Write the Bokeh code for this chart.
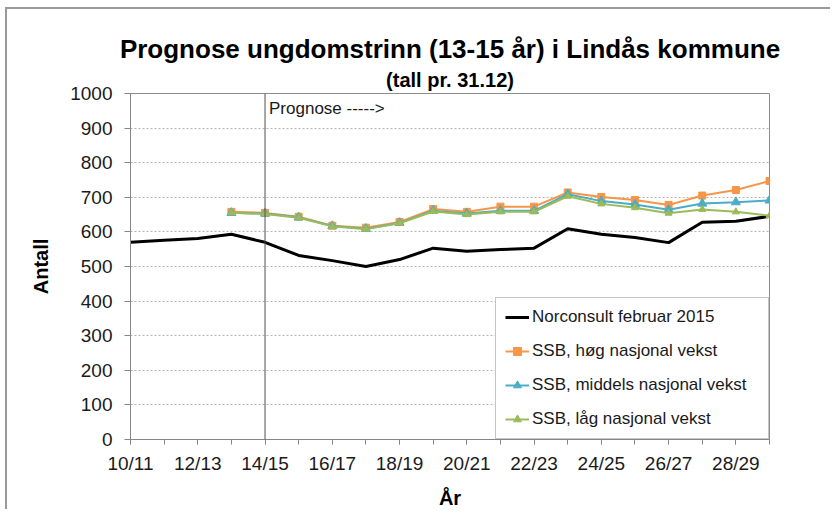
import math
from bokeh.plotting import figure
from bokeh.models import (Range1d, FixedTicker, Span, Label, Legend, LegendItem, Title)
from bokeh.embed import file_html
from bokeh.resources import INLINE

nan = float("nan")

years = ["10/11", "11/12", "12/13", "13/14", "14/15", "15/16", "16/17", "17/18", "18/19", "19/20",
         "20/21", "21/22", "22/23", "23/24", "24/25", "25/26", "26/27", "27/28", "28/29", "29/30"]
norconsult = [570, 576, 581, 593, 570, 532, 517, 500, 520, 553,
              544, 549, 553, 609, 593, 584, 569, 628, 631, 645]
ssb_hog = [nan, nan, nan, 658, 655, 644, 618, 612, 629, 666,
           658, 673, 673, 714, 701, 692, 678, 705, 721, 747]
ssb_middels = [nan, nan, nan, 655, 653, 642, 617, 609, 626, 661,
               653, 661, 661, 709, 689, 679, 664, 682, 686, 691]
ssb_lag = [nan, nan, nan, 655, 652, 641, 616, 608, 625, 659,
           650, 658, 658, 703, 681, 670, 654, 665, 658, 647]
y_ticks = list(range(0, 1001, 100))
prognose_start = "14/15"

FONT = "Liberation Sans"
xs = list(range(len(years)))

p = figure(width=825, height=502, output_backend="svg", toolbar_location=None,
           x_range=Range1d(0, len(years) - 1), y_range=Range1d(0, 1000),
           min_border_left=123, min_border_right=63, min_border_top=84, min_border_bottom=61)
p.styles = {"border-top": "2px solid #9a9a9a", "border-left": "2px solid #9a9a9a",
            "margin-left": "5px", "margin-top": "7px"}

# titles
sub = Title(text="(tall pr. 31.12)", align="center", text_font=FONT, text_font_size="20px",
            text_font_style="bold", text_color="black", standoff=5)
main = Title(text="Prognose ungdomstrinn (13-15 år) i Lindås kommune", align="center", text_font=FONT,
             text_font_size="26px", text_font_style="bold", text_color="black", standoff=2)
p.add_layout(sub, "above")
p.add_layout(main, "above")

p.outline_line_color = "#8c8c8c"
p.outline_line_width = 1
p.background_fill_color = "white"
p.border_fill_color = "white"

# grid
p.xgrid.visible = False
p.ygrid.ticker = FixedTicker(ticks=y_ticks)
p.ygrid.grid_line_color = "#b5b5b5"
p.ygrid.grid_line_dash = "2 2"
p.ygrid.grid_line_width = 1

# axes
p.yaxis.ticker = FixedTicker(ticks=y_ticks)
p.xaxis.ticker = FixedTicker(ticks=xs[::2], minor_ticks=xs)
p.xaxis.major_label_overrides = {i: years[i] for i in xs[::2]}
for ax in (p.xaxis[0], p.yaxis[0]):
    ax.axis_line_color = "#868686"
    ax.major_tick_line_color = "#868686"
    ax.minor_tick_line_color = "#868686"
    ax.major_tick_in = 0
    ax.major_tick_out = 5
    ax.minor_tick_in = 0
    ax.minor_tick_out = 5
    ax.major_label_text_font = FONT
    ax.major_label_text_font_size = "19px"
    ax.major_label_text_color = "#1a1a1a"
    ax.axis_label_text_font = FONT
    ax.axis_label_text_font_size = "20px"
    ax.axis_label_text_font_style = "bold"
    ax.axis_label_text_color = "black"
p.yaxis.minor_tick_out = 0
p.yaxis.major_tick_out = 6
p.xaxis.axis_label = "År"
p.yaxis.axis_label = "Antall"
p.xaxis.major_label_standoff = 8
p.yaxis.major_label_standoff = 12
p.xaxis.axis_label_standoff = 10
p.yaxis.axis_label_standoff = 15

# prognosis divider
idx = years.index(prognose_start)
p.add_layout(Span(location=idx, dimension="height", line_color="#505050", line_width=1))
p.add_layout(Label(x=idx, y=957, x_offset=4, text="Prognose ----->", text_baseline="middle",
                   text_font=FONT, text_font_size="17px", text_color="#1a1a1a"))

# series
r_n = p.line(xs, norconsult, line_color="black", line_width=3)

r_h = p.line(xs, ssb_hog, line_color="#F79646", line_width=2)
m_h = p.scatter(xs, ssb_hog, marker="square", size=7, fill_color="#F79646", line_color="#F79646")

r_m = p.line(xs, ssb_middels, line_color="#4BACC6", line_width=2)
m_m = p.scatter(xs, ssb_middels, marker="triangle", size=9, fill_color="#4BACC6", line_color="#4BACC6")

r_l = p.line(xs, ssb_lag, line_color="#9BBB59", line_width=2)
m_l = p.scatter(xs, ssb_lag, marker="triangle", size=7, fill_color="#9BBB59", line_color="#9BBB59")

legend = Legend(items=[
    LegendItem(label="Norconsult februar 2015", renderers=[r_n]),
    LegendItem(label="SSB, høg nasjonal vekst", renderers=[r_h, m_h]),
    LegendItem(label="SSB, middels nasjonal vekst", renderers=[r_m, m_m]),
    LegendItem(label="SSB, låg nasjonal vekst", renderers=[r_l, m_l]),
], location="bottom_right", margin=0, padding=9, spacing=14,
    glyph_width=24, glyph_height=20, label_height=20, label_width=227, label_standoff=3,
    label_text_font=FONT, label_text_font_size="17px", label_text_color="#1a1a1a",
    border_line_color="#8c8c8c", border_line_width=1, background_fill_alpha=1.0)
p.add_layout(legend)

open("out.html", "w").write(file_html(p, INLINE))
